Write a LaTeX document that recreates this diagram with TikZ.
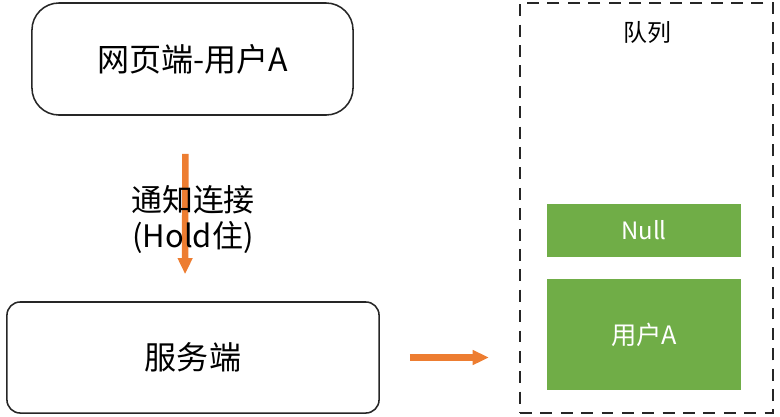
\documentclass[tikz,border=0pt]{standalone}
\usepackage{fontspec}
\setmainfont{Noto Sans CJK SC}
\usepackage{xcolor}
\usetikzlibrary{arrows.meta}
\definecolor{arrorange}{HTML}{ED7D31}
\definecolor{cellgreen}{HTML}{70AD47}

\begin{document}
\begin{tikzpicture}[x=0.025cm,y=-0.025cm,
    endbox/.style={draw=black!85,line width=1.1pt,font=\fontsize{22.8}{27}\selectfont},
    cell/.style={fill=cellgreen,draw=none,text=white,minimum width=4.85cm,
      font=\fontsize{17}{20}\selectfont},
    flow/.style={draw=arrorange,line width=4.6pt,
      -{Triangle[width=10pt,length=11.5pt]}}]
    \useasboundingbox (0,0) rectangle (780,416);

    \node[endbox,rounded corners=0.675cm,minimum width=8.025cm,minimum height=2.8cm]
      (web) at (192.5,59) {网页端-用户A};
    \node[endbox,rounded corners=0.33cm,minimum width=9.3cm,minimum height=2.775cm]
      (server) at (193,357.5) {服务端};

    \node[draw=black!85,line width=1.5pt,dash pattern=on 8.5pt off 6pt,
      minimum width=6.325cm,minimum height=10.25cm] (queue) at (646.5,208) {};
    \node[font=\fontsize{17}{20}\selectfont] (qtitle) at (647,32) {队列};
    \node[cell,minimum height=1.325cm] (null) at (644,230.5) {Null};
    \node[cell,minimum height=2.775cm,font=\fontsize{18}{20}\selectfont]
      (userA) at (644,334.5) {用户A};

    \draw[flow,shorten <=0.95cm,shorten >=0.675cm]
      ([xshift=-0.175cm]web.south) -- ([xshift=-0.2cm]server.north);
    \node[align=center,font=\fontsize{22}{25.6}\selectfont] (lbl) at (193,220)
      {通知连接\\(Hold住)};
    \draw[flow,shorten <=0.75cm,shorten >=0.75cm] (server.east) -- (queue.west |- server.east);
  \end{tikzpicture}
\end{document}
